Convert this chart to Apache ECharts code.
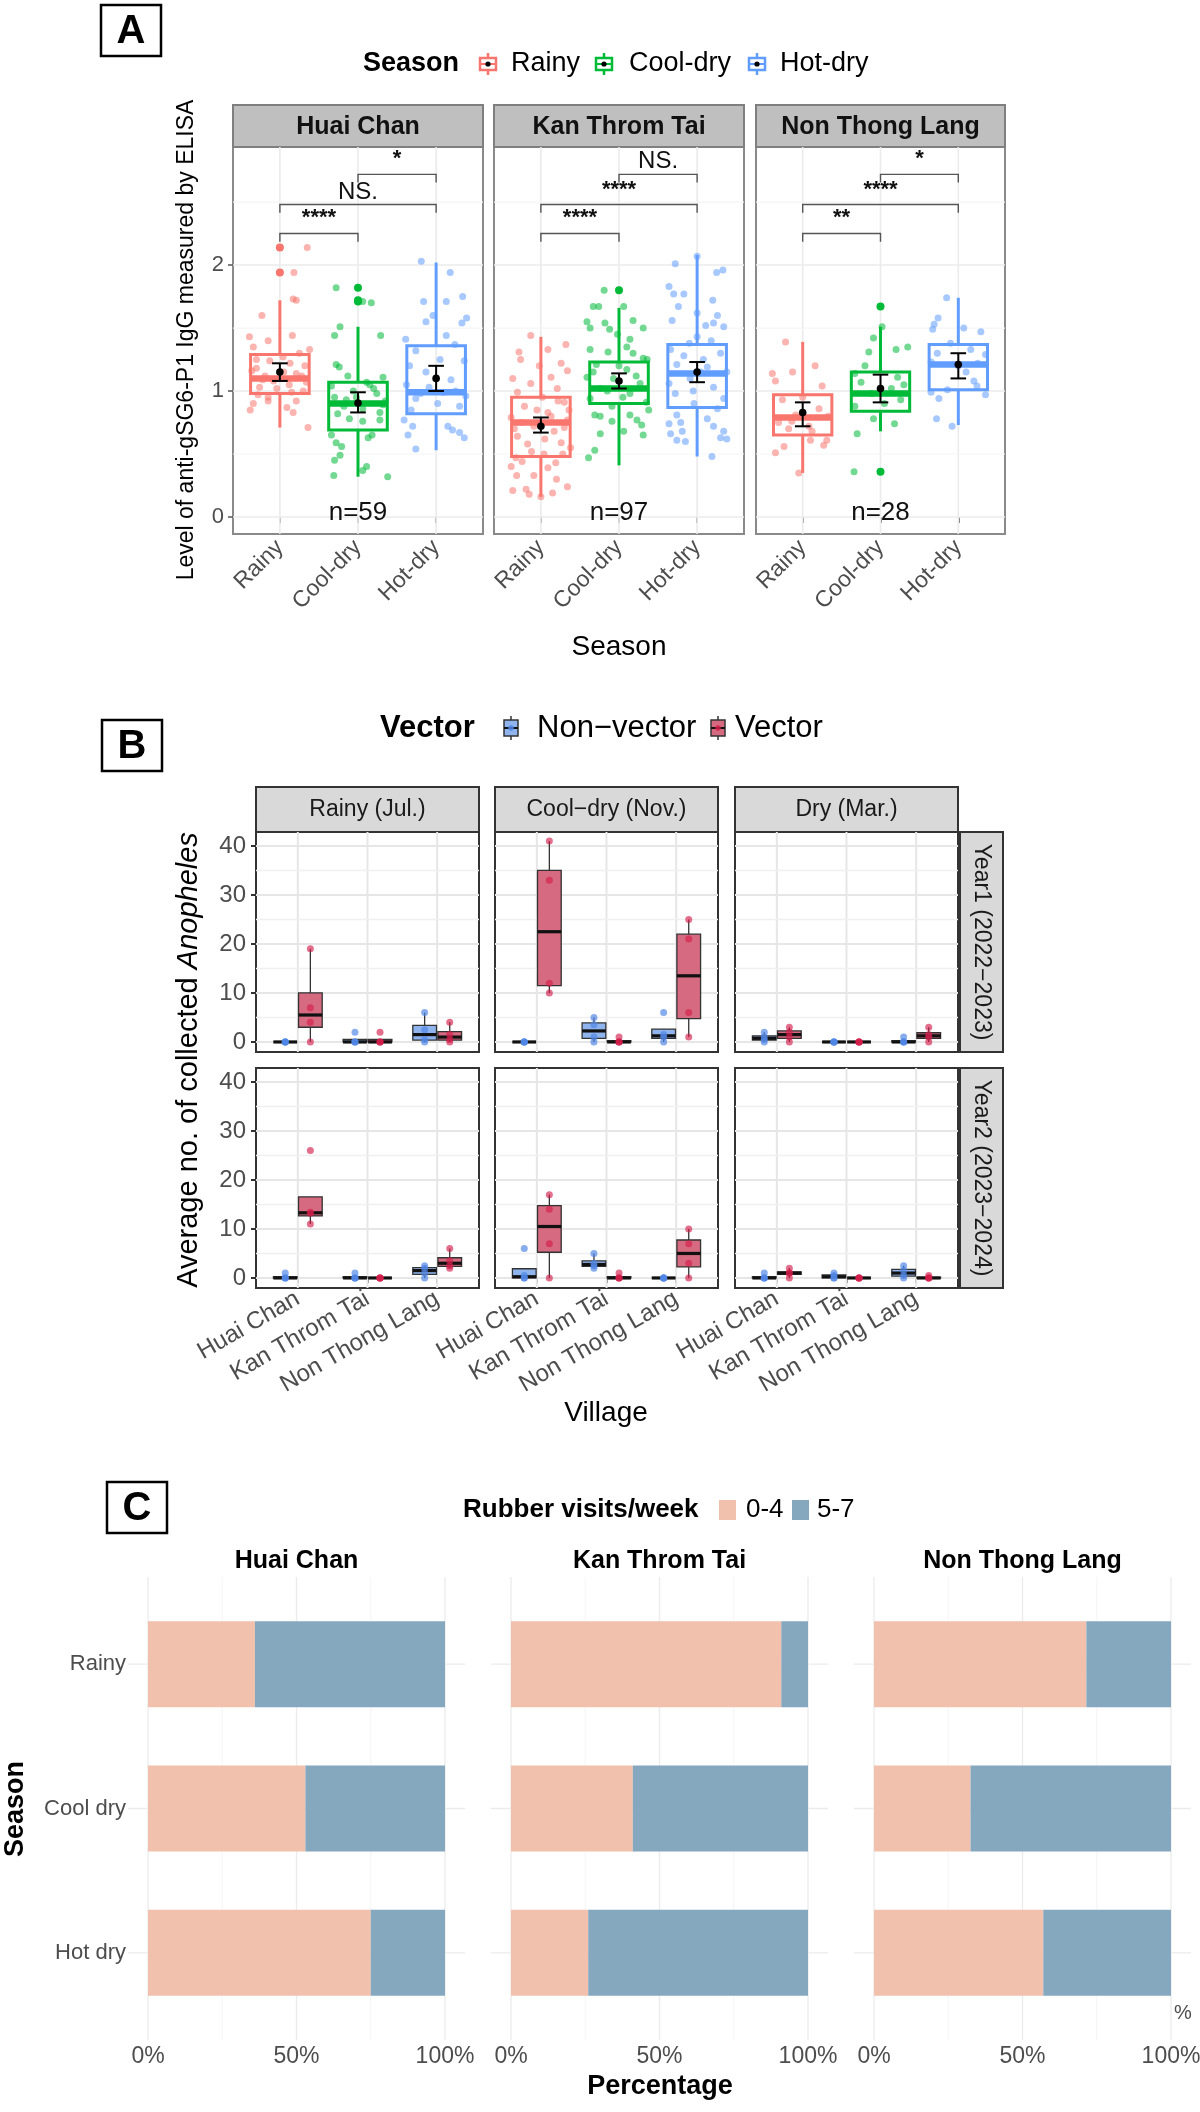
<!DOCTYPE html>
<html>
<head>
<meta charset="utf-8">
<script src="https://cdn.jsdelivr.net/npm/echarts@6.0.0/dist/echarts.min.js"></script>
<style>
html,body{margin:0;padding:0;background:#ffffff;}
#chart{width:1200px;height:2112px;}
</style>
</head>
<body>
<div id="chart"></div>
<script>
// ======================= DATA =======================
// ---------- Panel A ----------
const villages = ['Huai Chan', 'Kan Throm Tai', 'Non Thong Lang'];
const seasonsA = ['Rainy', 'Cool-dry', 'Hot-dry'];
const sampleSizes = [59, 97, 28];
const yTicksA = [0, 1, 2];
// box stats per season: [lower whisker, Q1, median, Q3, upper whisker]
const boxHC  = [[0.71, 0.98, 1.10, 1.29, 1.72], [0.32, 0.69, 0.90, 1.07, 1.51], [0.53, 0.82, 0.99, 1.36, 2.02]];
const boxKTT = [[0.16, 0.48, 0.75, 0.95, 1.43], [0.41, 0.90, 1.02, 1.23, 1.66], [0.48, 0.87, 1.14, 1.37, 2.08]];
const boxNTL = [[0.35, 0.65, 0.79, 0.97, 1.39], [0.68, 0.84, 0.98, 1.15, 1.51], [0.73, 1.01, 1.21, 1.37, 1.74]];
// mean and 95% CI per season: [mean, low, high]
const meanHC  = [[1.15, 1.08, 1.22], [0.905, 0.83, 0.99], [1.10, 1.00, 1.20]];
const meanKTT = [[0.72, 0.67, 0.79], [1.08, 1.02, 1.14], [1.15, 1.07, 1.23]];
const meanNTL = [[0.83, 0.72, 0.91], [1.02, 0.91, 1.13], [1.21, 1.10, 1.30]];
// outliers per season
const outHC  = [[2.14, 1.94], [1.82, 1.72, 1.71], []];
const outKTT = [[], [1.80], []];
const outNTL = [[], [1.67, 0.36], []];
// significance brackets: [season from, season to, level, label]
const sigHC  = [[1, 2, 2.25, '****'], [1, 3, 2.48, 'NS.'], [2, 3, 2.72, '*']];
const sigKTT = [[1, 2, 2.25, '****'], [1, 3, 2.48, '****'], [2, 3, 2.72, 'NS.']];
const sigNTL = [[1, 2, 2.25, '**'], [1, 3, 2.48, '****'], [2, 3, 2.72, '*']];
// jittered individual values: [jitter offset, value]
const ptsHC_R = [[0,2.14],[0.35,2.14],[0.18,1.94],[0.17,1.73],[0.21,1.72],[-0.23,1.6],[0.16,1.44],[-0.39,1.43],[-0.15,1.40],[0.38,1.33],[0.25,1.30],[-0.34,1.35],[0.04,1.27],[-0.30,1.25],[-0.13,1.24],[0.13,1.22],[0.32,1.20],[-0.36,1.16],[-0.19,1.12],[0.21,1.14],[0.34,1.07],[-0.26,1.03],[-0.04,1.02],[0.15,0.99],[-0.15,0.95],[0.21,0.92],[-0.38,0.85],[-0.34,0.90],[0.17,0.83],[0.09,0.87],[-0.15,0.92],[0.36,0.71],[-0.30,1.18],[0.28,1.12],[-0.08,1.08],[0.05,1.15],[-0.22,1.09],[0.12,1.05],[0.30,1.00],[-0.28,0.97]];
const ptsHC_C = [[-0.28,1.82],[0.06,1.71],[0.17,1.70],[-0.23,1.51],[-0.30,1.44],[0.29,1.44],[-0.28,1.21],[-0.24,1.19],[0.32,1.11],[-0.13,1.12],[0.11,1.07],[-0.34,1.04],[-0.06,1.0],[0.24,0.98],[-0.30,0.95],[-0.15,0.93],[0.32,0.89],[0.06,0.86],[-0.26,0.82],[-0.11,0.78],[0.28,0.77],[-0.34,0.65],[0.06,0.76],[0.13,0.63],[0.18,0.65],[-0.28,0.59],[-0.21,0.56],[-0.23,0.49],[-0.30,0.45],[0.11,0.40],[0.06,0.37],[-0.31,0.33],[0.38,0.32],[0.28,0.83],[0.20,1.02],[-0.02,0.95],[0.35,0.92],[-0.18,0.88],[0.15,1.05]];
const ptsHC_H = [[-0.19,2.03],[0.18,1.94],[0.34,1.75],[-0.16,1.71],[0.13,1.71],[0.39,1.58],[-0.04,1.60],[-0.13,1.55],[0.33,1.54],[0.13,1.44],[-0.39,1.41],[0.24,1.37],[-0.26,1.32],[0.36,1.24],[-0.34,1.20],[-0.13,1.15],[0.19,1.09],[-0.38,1.05],[-0.09,1.03],[0.09,0.99],[0.38,0.96],[-0.26,0.94],[0.02,0.90],[0.30,0.88],[-0.32,0.85],[-0.41,0.77],[-0.30,0.72],[-0.36,0.65],[0.15,0.72],[0.21,0.69],[0.30,0.67],[0.36,0.63],[-0.26,0.54],[0.25,1.00],[-0.20,0.98],[0.05,1.25]];
const ptsKTT_R = [[-0.13,1.44],[0.32,1.37],[-0.28,1.31],[0.09,1.33],[0.26,1.22],[-0.26,1.25],[0.34,1.16],[-0.36,1.10],[0.13,1.11],[-0.13,1.06],[0.21,1.02],[-0.30,0.99],[0.02,0.95],[0.30,0.91],[-0.21,0.88],[0.09,0.83],[-0.38,0.79],[0.34,0.77],[-0.09,0.72],[0.17,0.68],[-0.30,0.64],[0.26,0.59],[0.13,0.80],[-0.34,0.70],[0.30,0.71],[-0.17,0.58],[0.38,0.55],[0.04,0.50],[-0.32,0.47],[-0.24,0.44],[0.19,0.43],[-0.38,0.40],[0.09,0.39],[-0.09,0.33],[-0.31,0.33],[0.34,0.24],[-0.36,0.21],[-0.19,0.22],[-0.15,0.18],[0.15,0.19],[0.0,0.16],[-0.05,0.85],[0.22,0.92],[-0.25,0.75],[0.05,0.62],[0.28,0.50],[-0.12,0.52],[0.36,0.85],[-0.02,1.20],[0.20,0.30]];
const ptsKTT_C = [[-0.19,1.80],[-0.33,1.67],[-0.26,1.67],[0.06,1.67],[-0.41,1.55],[-0.18,1.54],[0.18,1.56],[-0.37,1.50],[-0.12,1.49],[0.31,1.50],[0.14,1.41],[-0.37,1.33],[-0.14,1.31],[0.18,1.30],[0.31,1.26],[-0.29,1.21],[0.10,1.17],[-0.41,1.11],[-0.07,1.10],[0.27,1.06],[-0.24,1.02],[0.14,0.98],[-0.37,0.94],[0.35,0.91],[-0.09,0.88],[0.38,0.85],[-0.31,0.81],[0.23,0.77],[-0.09,0.76],[-0.24,0.80],[0.14,0.81],[0.29,0.73],[-0.24,0.66],[0.31,0.65],[0.06,0.68],[-0.31,0.53],[-0.39,0.47],[0.0,1.20],[0.22,1.12],[-0.15,1.0],[0.05,0.95],[-0.33,1.15],[0.36,1.25],[0.10,1.35],[-0.02,1.45]];
const ptsKTT_H = [[0.0,2.07],[-0.28,2.01],[0.25,1.94],[0.33,1.96],[-0.36,1.83],[-0.30,1.77],[-0.17,1.77],[0.20,1.72],[-0.24,1.67],[0.0,1.62],[-0.32,1.56],[0.26,1.60],[0.11,1.52],[0.21,1.54],[0.34,1.51],[0.0,1.43],[-0.34,1.33],[-0.17,1.28],[0.30,1.30],[-0.26,1.21],[0.13,1.19],[0.38,1.15],[-0.09,1.10],[-0.36,1.06],[0.21,1.03],[-0.28,0.98],[0.34,0.94],[-0.04,0.90],[0.26,0.86],[-0.26,0.81],[-0.36,0.74],[-0.21,0.75],[0.13,0.78],[0.21,0.72],[-0.34,0.66],[-0.19,0.68],[0.34,0.68],[-0.26,0.61],[-0.15,0.60],[0.30,0.63],[0.38,0.62],[0.19,0.48],[0.08,1.25],[-0.10,1.38],[0.18,1.40],[-0.05,1.00],[0.05,1.15]];
const ptsNTL_R = [[-0.22,1.39],[0.16,1.20],[-0.13,1.15],[-0.39,1.14],[-0.35,1.08],[0.25,1.04],[-0.26,0.93],[0.21,0.86],[-0.09,0.81],[0.33,0.80],[-0.31,0.75],[0.08,0.72],[-0.14,0.76],[0.10,0.61],[0.31,0.61],[0.27,0.57],[-0.24,0.56],[-0.35,0.51],[-0.05,0.35],[0.0,0.95],[0.12,0.68],[-0.18,0.70]];
const ptsNTL_C = [[-0.09,1.42],[-0.15,1.31],[0.20,1.33],[0.35,1.35],[-0.33,1.14],[0.22,1.11],[-0.25,1.07],[0.14,1.02],[-0.12,0.98],[0.26,0.93],[-0.33,0.88],[-0.09,0.78],[0.18,0.74],[-0.30,0.66],[-0.34,0.36],[0.02,1.51],[0.30,1.05],[0.05,0.90],[-0.20,1.20]];
const ptsNTL_H = [[-0.15,1.74],[-0.26,1.58],[-0.31,1.53],[-0.33,1.49],[0.07,1.50],[0.29,1.47],[-0.27,1.30],[0.16,1.33],[0.35,1.29],[-0.35,1.23],[0.20,1.08],[0.24,1.04],[-0.14,1.01],[-0.35,0.99],[0.35,0.97],[-0.25,0.94],[-0.28,0.78],[-0.08,0.72],[0.0,1.20],[0.10,1.15],[-0.10,1.38],[0.25,1.22]];

// ---------- Panel B ----------
const bSeasons = ['Rainy (Jul.)', 'Cool\u2212dry (Nov.)', 'Dry (Mar.)'];
const bYears = ['Year1 (2022\u22122023)', 'Year2 (2023\u22122024)'];
const yTicksB = [0, 10, 20, 30, 40];
// average no. per collection [season][village] -> values
const nonVecY1 = [[[0,0,0,0],[0,0,0,2],[0,0.5,2.5,6]], [[0,0,0,0],[0,1,3.5,5],[0,1,1.5,6]], [[0,0.5,1,2],[0,0,0,0],[0,0,0,1]]];
const vecY1    = [[[0,4,7,19],[0,0,0,2],[0,0.5,1.5,4]], [[10,12,33,41],[0,0,0,1],[1,6,21,25]], [[0,1,2,3],[0,0,0,0],[0,1,1.5,3]]];
const nonVecY2 = [[[0,0,0,1],[0,0,0,1],[0,1,2,2.5]], [[0,0,0,0.5,6].slice(1),[2,2.5,3,5],[0,0,0,0]], [[0,0,0,1],[0,0,0.5,1],[0,0.5,1.5,2.5]]];
const vecY2    = [[[11,13.2,13.4,26],[0,0,0,0],[2,2.5,3.5,6]], [[0,7,14,17],[0,0,0,1],[0,3,7,10]], [[0,1,1,2],[0,0,0,0],[0,0,0,0.5]]];

// ---------- Panel C ----------
const seasonsC = ['Rainy', 'Cool dry', 'Hot dry'];
const visitsHC_04  = [36, 53, 75];   const visitsHC_57  = [64, 47, 25];
const visitsKTT_04 = [91, 41, 26];   const visitsKTT_57 = [9, 59, 74];
const visitsNTL_04 = [71.5, 32.5, 57]; const visitsNTL_57 = [28.5, 67.5, 43];
const pctTicks = [0, 50, 100];

// ======================= STYLE / LAYOUT =======================
const FONT = "'Liberation Sans', Arial, Helvetica, sans-serif";
const seasonColors = ['#F8766D', '#00BA38', '#619CFF'];
const colNV = '#8FB4EE', colV = '#D56A80', ptNV = 'rgba(80,135,230,0.85)', ptV = 'rgba(212,30,75,0.8)';
const col04 = '#F2C1AE', col57 = '#85A8BF';

const boxesA = [boxHC, boxKTT, boxNTL];
const meansA = [meanHC, meanKTT, meanNTL];
const outsA = [outHC, outKTT, outNTL];
const sigsA = [sigHC, sigKTT, sigNTL];
const ptsA = [[ptsHC_R, ptsHC_C, ptsHC_H], [ptsKTT_R, ptsKTT_C, ptsKTT_H], [ptsNTL_R, ptsNTL_C, ptsNTL_H]];
const nonVec = [nonVecY1, nonVecY2], vec = [vecY1, vecY2];
const c04 = [visitsHC_04, visitsKTT_04, visitsNTL_04], c57 = [visitsHC_57, visitsKTT_57, visitsNTL_57];

const gridA = {lefts: [233, 494, 756], width: 250, top: 147, height: 387};
const gridB = {lefts: [256, 495, 735], width: 223, tops: [832, 1068], height: 220};
const gridC = {lefts: [148, 511, 874], width: 297, top: 1592, height: 433};

function q7(arr, p) {
  const a = arr.slice().sort((x, y) => x - y);
  const h = (a.length - 1) * p, lo = Math.floor(h);
  const hi = Math.min(lo + 1, a.length - 1);
  return a[lo] + (h - lo) * (a[hi] - a[lo]);
}
function boxStats(arr) {
  const q1 = q7(arr, 0.25), m = q7(arr, 0.5), q3 = q7(arr, 0.75), iqr = q3 - q1;
  const lo = Math.min(...arr.filter(v => v >= q1 - 1.5 * iqr));
  const hi = Math.max(...arr.filter(v => v <= q3 + 1.5 * iqr));
  return [lo, q1, m, q3, hi];
}

// ----- render helpers -----
function gridLineRender(st, ext) {
  return function (params, api) {
    const cs = params.coordSys;
    const o = api.value(0), v = api.value(1), maj = api.value(2);
    const s = maj ? st.major : st.minor;
    let shape;
    if (o === 0) {
      const p = api.coord([v, 0]);
      shape = {x1: p[0], y1: cs.y - ext, x2: p[0], y2: cs.y + cs.height + ext};
    } else {
      const p = api.coord([0, v]);
      shape = {x1: cs.x - (st.hExt || 0), y1: p[1], x2: cs.x + cs.width + (st.hExt || 0), y2: p[1]};
    }
    return {type: 'line', shape, silent: true, style: {stroke: s[0], lineWidth: s[1]}};
  };
}
function boxRenderA(params, api) {
  const x = api.value(0), col = seasonColors[api.value(6)], hw = 0.375;
  const c = (xx, yy) => api.coord([xx, yy]);
  const yLw = c(x, api.value(1))[1], yQ1 = c(x, api.value(2))[1], yMed = c(x, api.value(3))[1];
  const yQ3 = c(x, api.value(4))[1], yUw = c(x, api.value(5))[1];
  const xc = c(x, 0)[0], xl = c(x - hw, 0)[0], xr = c(x + hw, 0)[0];
  return {type: 'group', children: [
    {type: 'line', shape: {x1: xc, y1: yUw, x2: xc, y2: yQ3}, style: {stroke: col, lineWidth: 3}},
    {type: 'line', shape: {x1: xc, y1: yQ1, x2: xc, y2: yLw}, style: {stroke: col, lineWidth: 3}},
    {type: 'rect', shape: {x: xl, y: yQ3, width: xr - xl, height: yQ1 - yQ3}, style: {fill: 'rgba(255,255,255,0)', stroke: col, lineWidth: 3}},
    {type: 'line', shape: {x1: xl, y1: yMed, x2: xr, y2: yMed}, style: {stroke: col, lineWidth: 6.5}}
  ]};
}
function meanRender(params, api) {
  const x = api.value(0), hw = 0.1;
  const pm = api.coord([x, api.value(1)]), pl = api.coord([x, api.value(2)]), ph = api.coord([x, api.value(3)]);
  const xl = api.coord([x - hw, 0])[0], xr = api.coord([x + hw, 0])[0];
  const st = {stroke: '#000', lineWidth: 2};
  return {type: 'group', children: [
    {type: 'line', shape: {x1: pm[0], y1: pl[1], x2: pm[0], y2: ph[1]}, style: st},
    {type: 'line', shape: {x1: xl, y1: pl[1], x2: xr, y2: pl[1]}, style: st},
    {type: 'line', shape: {x1: xl, y1: ph[1], x2: xr, y2: ph[1]}, style: st},
    {type: 'circle', shape: {cx: pm[0], cy: pm[1], r: 3.8}, style: {fill: '#000'}}
  ]};
}
function bracketRender(sig) {
  return function (params, api) {
    const s = sig[params.dataIndex];
    const p1 = api.coord([s[0], s[2]]), p2 = api.coord([s[1], s[2]]);
    const d = api.coord([s[0], s[2] - 0.065])[1];
    const ast = s[3].indexOf('*') >= 0;
    const ty = api.coord([s[0], s[2] + (ast ? 0.12 : 0.10)])[1];
    return {type: 'group', children: [
      {type: 'polyline', shape: {points: [[p1[0], d], [p1[0], p1[1]], [p2[0], p2[1]], [p2[0], d]]}, style: {stroke: '#555', lineWidth: 1.4, fill: 'none'}},
      {type: 'text', x: (p1[0] + p2[0]) / 2, y: ty, style: {text: s[3], fill: '#111', font: (ast ? 'bold 22px ' : '24px ') + FONT, align: 'center', verticalAlign: 'middle'}}
    ]};
  };
}
function nLabelRender(v) {
  return function (params, api) {
    const p = api.coord([api.value(0), api.value(1)]);
    return {type: 'text', x: p[0], y: p[1], style: {text: 'n=' + sampleSizes[v], fill: '#111', font: '26px ' + FONT, align: 'center', verticalAlign: 'middle'}};
  };
}
function boxRenderB(params, api) {
  const x = api.value(0), g = api.value(6), hw = 0.17;
  const c = (xx, yy) => api.coord([xx, yy]);
  const yLw = c(x, api.value(1))[1], yQ1 = c(x, api.value(2))[1], yMed = c(x, api.value(3))[1];
  const yQ3 = c(x, api.value(4))[1], yUw = c(x, api.value(5))[1];
  const xc = c(x, 0)[0], xl = c(x - hw, 0)[0], xr = c(x + hw, 0)[0];
  const ln = {stroke: '#333', lineWidth: 1.3};
  return {type: 'group', children: [
    {type: 'line', shape: {x1: xc, y1: yUw, x2: xc, y2: yQ3}, style: ln},
    {type: 'line', shape: {x1: xc, y1: yQ1, x2: xc, y2: yLw}, style: ln},
    {type: 'rect', shape: {x: xl, y: yQ3, width: xr - xl, height: yQ1 - yQ3}, style: {fill: g ? colV : colNV, stroke: '#333', lineWidth: 1.3}},
    {type: 'line', shape: {x1: xl, y1: yMed, x2: xr, y2: yMed}, style: {stroke: '#111', lineWidth: 3.2}}
  ]};
}

// ======================= BUILD OPTION =======================
const grids = [], xAxes = [], yAxes = [], series = [], graphics = [];
const axisTextA = {color: '#4D4D4D', fontFamily: FONT};

// ---- Panel A ----
for (let v = 0; v < 3; v++) {
  const gi = grids.length;
  grids.push({left: gridA.lefts[v], top: gridA.top, width: v === 2 ? 249 : gridA.width, height: gridA.height,
    show: true, backgroundColor: '#fff', borderColor: '#8A8A8A', borderWidth: 2, outerBoundsMode: 'none'});
  xAxes.push({gridIndex: gi, type: 'value', min: 0.4, max: 3.6, splitLine: {show: false}, axisLine: {show: false},
    axisTick: {show: true, customValues: [1, 2, 3], length: 6, lineStyle: {color: '#555', width: 1.5}},
    axisLabel: Object.assign({customValues: [1, 2, 3], formatter: val => seasonsA[Math.round(val) - 1], rotate: 45, fontSize: 23, margin: 10}, axisTextA)});
  yAxes.push({gridIndex: gi, type: 'value', min: -0.135, max: 2.937, splitLine: {show: false}, axisLine: {show: false},
    axisTick: {show: v === 0, customValues: yTicksA, length: 5, lineStyle: {color: '#555', width: 1.5}},
    axisLabel: Object.assign({show: v === 0, customValues: yTicksA, fontSize: 22, margin: 9}, axisTextA)});
  const gl = [[0,1,1],[0,2,1],[0,3,1],[1,0,1],[1,1,1],[1,2,1],[1,0.5,0],[1,1.5,0],[1,2.5,0]];
  series.push({type: 'custom', xAxisIndex: gi, yAxisIndex: gi, z: 1, silent: true, data: gl,
    renderItem: gridLineRender({major: ['#EBEBEB', 1.6], minor: ['#F5F5F5', 1.2]}, 0)});
  for (let s = 0; s < 3; s++) {
    series.push({type: 'scatter', xAxisIndex: gi, yAxisIndex: gi, z: 2, symbolSize: 7, silent: true,
      itemStyle: {color: seasonColors[s], opacity: 0.55},
      data: ptsA[v][s].map(p => [s + 1 + p[0], p[1]])});
    series.push({type: 'scatter', xAxisIndex: gi, yAxisIndex: gi, z: 4, symbolSize: 8, silent: true,
      itemStyle: {color: seasonColors[s], opacity: 1},
      data: outsA[v][s].map(val => [s + 1, val])});
  }
  series.push({type: 'custom', xAxisIndex: gi, yAxisIndex: gi, z: 3, silent: true,
    data: boxesA[v].map((b, s) => [s + 1, b[0], b[1], b[2], b[3], b[4], s]), renderItem: boxRenderA});
  series.push({type: 'custom', xAxisIndex: gi, yAxisIndex: gi, z: 5, silent: true,
    data: meansA[v].map((m, s) => [s + 1, m[0], m[1], m[2]]), renderItem: meanRender});
  series.push({type: 'custom', xAxisIndex: gi, yAxisIndex: gi, z: 5, silent: true,
    data: sigsA[v].map(s => [s[0], s[2]]), renderItem: bracketRender(sigsA[v])});
  series.push({type: 'custom', xAxisIndex: gi, yAxisIndex: gi, z: 5, silent: true,
    data: [[2, 0.03]], renderItem: nLabelRender(v)});
  // strip
  const w = v === 2 ? 249 : gridA.width;
  graphics.push({type: 'rect', shape: {x: gridA.lefts[v], y: 105, width: w, height: 42}, style: {fill: '#BFBFBF', stroke: '#7F7F7F', lineWidth: 2}});
  graphics.push({type: 'text', x: gridA.lefts[v] + w / 2, y: 127, style: {text: villages[v], fill: '#111', font: 'bold 25px ' + FONT, align: 'center', verticalAlign: 'middle'}});
}

// ---- Panel B ----
for (let yr = 0; yr < 2; yr++) {
  for (let s = 0; s < 3; s++) {
    const gi = grids.length;
    grids.push({left: gridB.lefts[s], top: gridB.tops[yr], width: gridB.width, height: gridB.height,
      show: true, backgroundColor: '#fff', borderColor: '#333', borderWidth: 2, outerBoundsMode: 'none'});
    xAxes.push({gridIndex: gi, type: 'value', min: 0.4, max: 3.6, splitLine: {show: false}, axisLine: {show: false},
      axisTick: {show: yr === 1, customValues: [1, 2, 3], length: 5, lineStyle: {color: '#333', width: 1.5}},
      axisLabel: Object.assign({show: yr === 1, customValues: [1, 2, 3], formatter: val => villages[Math.round(val) - 1], rotate: 30, fontSize: 24, margin: 9}, axisTextA)});
    yAxes.push({gridIndex: gi, type: 'value', min: -2.05, max: 42.85, splitLine: {show: false}, axisLine: {show: false},
      axisTick: {show: s === 0, customValues: yTicksB, length: 5, lineStyle: {color: '#333', width: 2}},
      axisLabel: Object.assign({show: s === 0, customValues: yTicksB, fontSize: 24, margin: 10}, axisTextA)});
    const gl = [[0,1,1],[0,2,1],[0,3,1],[1,0,1],[1,10,1],[1,20,1],[1,30,1],[1,40,1],[1,5,0],[1,15,0],[1,25,0],[1,35,0]];
    series.push({type: 'custom', xAxisIndex: gi, yAxisIndex: gi, z: 1, silent: true, data: gl,
      renderItem: gridLineRender({major: ['#E6E6E6', 2], minor: ['#F0F0F0', 1.5]}, 0)});
    const boxData = [], ptsN = [], ptsV = [];
    for (let v = 0; v < 3; v++) {
      const nv = nonVec[yr][s][v], vv = vec[yr][s][v];
      const bn = boxStats(nv), bv = boxStats(vv);
      boxData.push([v + 1 - 0.18, bn[0], bn[1], bn[2], bn[3], bn[4], 0]);
      boxData.push([v + 1 + 0.18, bv[0], bv[1], bv[2], bv[3], bv[4], 1]);
      nv.forEach(val => ptsN.push([v + 1 - 0.18, val]));
      vv.forEach(val => ptsV.push([v + 1 + 0.18, val]));
    }
    series.push({type: 'custom', xAxisIndex: gi, yAxisIndex: gi, z: 3, silent: true, data: boxData, renderItem: boxRenderB});
    series.push({type: 'scatter', name: 'Non-vector', xAxisIndex: gi, yAxisIndex: gi, z: 4, symbolSize: 7, silent: true, itemStyle: {color: ptNV}, data: ptsN});
    series.push({type: 'scatter', name: 'Vector', xAxisIndex: gi, yAxisIndex: gi, z: 4, symbolSize: 7, silent: true, itemStyle: {color: ptV}, data: ptsV});
    if (yr === 0) {
      graphics.push({type: 'rect', shape: {x: gridB.lefts[s], y: 787, width: gridB.width, height: 45}, style: {fill: '#D9D9D9', stroke: '#333', lineWidth: 2}});
      graphics.push({type: 'text', x: gridB.lefts[s] + gridB.width / 2, y: 810, style: {text: bSeasons[s], fill: '#1A1A1A', font: '23px ' + FONT, align: 'center', verticalAlign: 'middle'}});
    }
  }
  graphics.push({type: 'rect', shape: {x: 960, y: gridB.tops[yr], width: 43, height: gridB.height}, style: {fill: '#D9D9D9', stroke: '#333', lineWidth: 2}});
  graphics.push({type: 'text', x: 981, y: gridB.tops[yr] + gridB.height / 2, rotation: -Math.PI / 2, style: {text: bYears[yr], fill: '#1A1A1A', font: '23px ' + FONT, align: 'center', verticalAlign: 'middle'}});
}

// ---- Panel C ----
for (let v = 0; v < 3; v++) {
  const gi = grids.length;
  grids.push({left: gridC.lefts[v], top: gridC.top, width: gridC.width, height: gridC.height, show: false, outerBoundsMode: 'none'});
  xAxes.push({gridIndex: gi, type: 'value', min: 0, max: 100, interval: 50, splitLine: {show: false}, axisLine: {show: false}, axisTick: {show: false},
    axisLabel: Object.assign({formatter: '{value}%', fontSize: 23, margin: 20, showMinLabel: true, showMaxLabel: true}, axisTextA)});
  yAxes.push({gridIndex: gi, type: 'category', inverse: true, data: seasonsC, axisLine: {show: false}, axisTick: {show: false}, splitLine: {show: false},
    axisLabel: Object.assign({show: v === 0, fontSize: 22, margin: 22}, axisTextA)});
  const gl = [[0,0,1],[0,50,1],[0,100,1],[0,25,0],[0,75,0],[1,0,1],[1,1,1],[1,2,1]];
  series.push({type: 'custom', xAxisIndex: gi, yAxisIndex: gi, z: 1, silent: true, data: gl,
    renderItem: gridLineRender({major: ['#EBEBEB', 1.3], minor: ['#F6F6F6', 1.1], hExt: 20}, 15)});
  series.push({type: 'bar', name: '0-4', xAxisIndex: gi, yAxisIndex: gi, stack: 'c' + v, barWidth: 86, z: 3, silent: true,
    itemStyle: {color: col04}, data: c04[v]});
  series.push({type: 'bar', name: '5-7', xAxisIndex: gi, yAxisIndex: gi, stack: 'c' + v, barWidth: 86, z: 3, silent: true,
    itemStyle: {color: col57}, data: c57[v]});
  graphics.push({type: 'text', x: gridC.lefts[v] + gridC.width / 2, y: 1561, style: {text: villages[v], fill: '#000', font: 'bold 25px ' + FONT, align: 'center', verticalAlign: 'middle'}});
}

// ---- Titles, legends, labels ----
function panelTag(x, y, letter) {
  return [
    {type: 'rect', shape: {x: x, y: y, width: 60, height: 51}, style: {fill: '#fff', stroke: '#000', lineWidth: 2.5}},
    {type: 'text', x: x + 30, y: y + 27, style: {text: letter, fill: '#000', font: 'bold 40px ' + FONT, align: 'center', verticalAlign: 'middle'}}
  ];
}
function keyA(cx, cy, col) {
  return [
    {type: 'line', shape: {x1: cx, y1: cy - 11, x2: cx, y2: cy + 11}, style: {stroke: col, lineWidth: 2.5}},
    {type: 'rect', shape: {x: cx - 8, y: cy - 6, width: 16, height: 12}, style: {fill: '#fff', stroke: col, lineWidth: 2.5}},
    {type: 'line', shape: {x1: cx - 8, y1: cy, x2: cx + 8, y2: cy}, style: {stroke: col, lineWidth: 2}},
    {type: 'circle', shape: {cx: cx, cy: cy, r: 2.6}, style: {fill: '#000'}}
  ];
}
function keyB(cx, cy, fill, pt) {
  return [
    {type: 'line', shape: {x1: cx, y1: cy - 12, x2: cx, y2: cy + 12}, style: {stroke: '#333', lineWidth: 1.5}},
    {type: 'rect', shape: {x: cx - 7, y: cy - 8, width: 14, height: 16}, style: {fill: fill, stroke: '#333', lineWidth: 1.5}},
    {type: 'line', shape: {x1: cx - 7, y1: cy, x2: cx + 7, y2: cy}, style: {stroke: '#111', lineWidth: 2}},
    {type: 'circle', shape: {cx: cx, cy: cy, r: 2.8}, style: {fill: pt}}
  ];
}
const T = (x, y, text, font, opts) => Object.assign({type: 'text', x, y, style: Object.assign({text, fill: '#000', font: font + ' ' + FONT, align: 'left', verticalAlign: 'middle'}, opts && opts.style)}, opts && opts.el);

graphics.push(...panelTag(101, 5, 'A'), ...panelTag(102, 720, 'B'), ...panelTag(107, 1482, 'C'));
// Legend A
graphics.push(T(363, 64, 'Season', 'bold 27px'));
seasonsA.forEach((s, i) => {
  const xs = [488, 604, 757][i], xt = [511, 629, 780][i];
  graphics.push(...keyA(xs, 64, seasonColors[i]));
  graphics.push(T(xt, 64, s, '27px'));
});
// axis titles A
graphics.push(T(187, 340, 'Level of anti-gSG6-P1 IgG measured by ELISA', '23px', {style: {align: 'center'}, el: {rotation: Math.PI / 2}}));
graphics.push(T(619, 647, 'Season', '28px', {style: {align: 'center'}}));
// Legend B
graphics.push(T(380, 728, 'Vector', 'bold 31px'));
graphics.push(...keyB(511, 728, colNV, ptNV));
graphics.push(T(537, 728, 'Non\u2212vector', '31px'));
graphics.push(...keyB(718, 728, colV, ptV));
graphics.push(T(735, 728, 'Vector', '31px'));
// axis titles B
graphics.push({type: 'text', x: 189, y: 1060, rotation: Math.PI / 2, style: {text: 'Average no. of collected {i|Anopheles}', fill: '#000', fontSize: 29, fontFamily: FONT, align: 'center', verticalAlign: 'middle',
  rich: {i: {fontStyle: 'italic', fontSize: 29, fontFamily: FONT, fill: '#000'}}}});
graphics.push(T(606, 1413, 'Village', '28px', {style: {align: 'center'}}));
// Legend C
graphics.push(T(463, 1510, 'Rubber visits/week', 'bold 26px'));
graphics.push({type: 'rect', shape: {x: 719, y: 1500, width: 17, height: 20}, style: {fill: col04}});
graphics.push(T(746, 1510, '0-4', '26px'));
graphics.push({type: 'rect', shape: {x: 792, y: 1500, width: 17, height: 20}, style: {fill: col57}});
graphics.push(T(817, 1510, '5-7', '26px'));
// axis titles C
graphics.push(T(660, 2087, 'Percentage', 'bold 27px', {style: {align: 'center'}}));
graphics.push(T(16, 1809, 'Season', 'bold 27px', {style: {align: 'center'}, el: {rotation: Math.PI / 2}}));
graphics.push(T(1183, 2013, '%', '20px', {style: {align: 'center', fill: '#4D4D4D'}}));

const chart = echarts.init(document.getElementById('chart'), null, {renderer: 'canvas'});
chart.setOption({
  backgroundColor: '#ffffff',
  animation: false,
  textStyle: {fontFamily: FONT},
  grid: grids,
  xAxis: xAxes,
  yAxis: yAxes,
  series: series,
  graphic: {elements: graphics}
});
</script>
</body>
</html>
